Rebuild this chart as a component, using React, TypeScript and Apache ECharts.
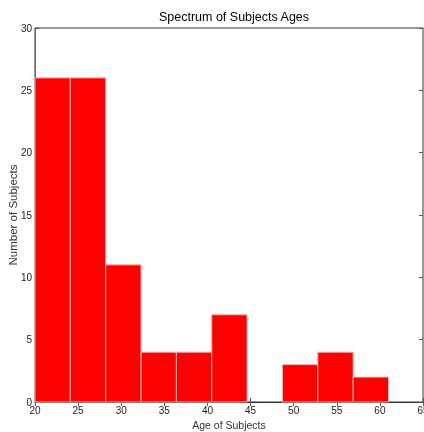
import React, { useEffect, useRef } from "react";
import * as echarts from "echarts";

const binEdges = [20, 24.1, 28.2, 32.3, 36.4, 40.5, 44.6, 48.7, 52.8, 56.9, 61.0];
const counts = [26, 26, 11, 4, 4, 7, 0, 3, 4, 2];
const titleText = "Spectrum of Subjects Ages";
const xName = "Age of Subjects";
const yName = "Number of Subjects";

export default function App() {
  const ref = useRef<HTMLDivElement>(null);
  useEffect(() => {
    if (!ref.current) return;
    const chart = echarts.init(ref.current, null, { renderer: "svg" });
    const data = counts.map((c, i) => [binEdges[i], binEdges[i + 1], c]);
    const font = "Liberation Sans";
    const labelStyle = { color: "#222", fontFamily: font, fontSize: 10 };
    chart.setOption({
      animation: false,
      title: {
        text: titleText,
        left: 229,
        textAlign: "center",
        top: 5,
        textStyle: { fontFamily: font, fontSize: 12.5, fontWeight: "normal", color: "#000" },
      },
      grid: {
        left: 35, right: 1, top: 28, bottom: 30,
        containLabel: false, outerBoundsMode: "none",
        show: true, borderColor: "#333", borderWidth: 1,
      },
      xAxis: [
        {
          type: "value", min: 20, max: 65, interval: 5,
          name: xName, nameLocation: "middle", nameGap: 17, nameMoveOverlap: false,
          nameTextStyle: { ...labelStyle, fontSize: 10.5, color: "#333" },
          axisLine: { show: true, lineStyle: { color: "#333" } },
          axisTick: { show: true, inside: true, length: 4, lineStyle: { color: "#555" } },
          axisLabel: { ...labelStyle, margin: 3, hideOverlap: false },
          splitLine: { show: false },
        },
        {
          type: "value", min: 20, max: 65, interval: 5, position: "top",
          axisLine: { show: true, lineStyle: { color: "#333" } },
          axisTick: { show: true, inside: true, length: 4, lineStyle: { color: "#555" } },
          axisLabel: { show: false },
          splitLine: { show: false },
        },
      ],
      yAxis: [
        {
          type: "value", min: 0, max: 30, interval: 5,
          name: yName, nameLocation: "middle", nameGap: 16, nameMoveOverlap: false,
          nameTextStyle: { ...labelStyle, fontSize: 11.5, color: "#333" },
          axisLine: { show: true, lineStyle: { color: "#666" } },
          axisTick: { show: true, inside: true, length: 4, lineStyle: { color: "#555" } },
          axisLabel: { ...labelStyle, margin: 3 },
          splitLine: { show: false },
        },
        {
          type: "value", min: 0, max: 30, interval: 5, position: "right",
          axisLine: { show: true, lineStyle: { color: "#999" } },
          axisTick: { show: true, inside: true, length: 4, lineStyle: { color: "#555" } },
          axisLabel: { show: false },
          splitLine: { show: false },
        },
      ],
      series: [
        {
          type: "custom",
          xAxisIndex: 0,
          yAxisIndex: 0,
          data,
          renderItem: (params: any, api: any) => {
            if (api.value(2) <= 0) return null;
            const p0 = api.coord([api.value(0), api.value(2)]);
            const p1 = api.coord([api.value(1), 0]);
            return {
              type: "rect",
              shape: { x: p0[0], y: p0[1], width: p1[0] - p0[0], height: p1[1] - p0[1] },
              style: { fill: "#ff0000", stroke: "#f4b4b4", lineWidth: 1 },
            };
          },
        },
      ],
    });
    return () => chart.dispose();
  }, []);
  return <div ref={ref} style={{ position: "fixed", left: 0, top: 0, width: 424, height: 432 }} />;
}
